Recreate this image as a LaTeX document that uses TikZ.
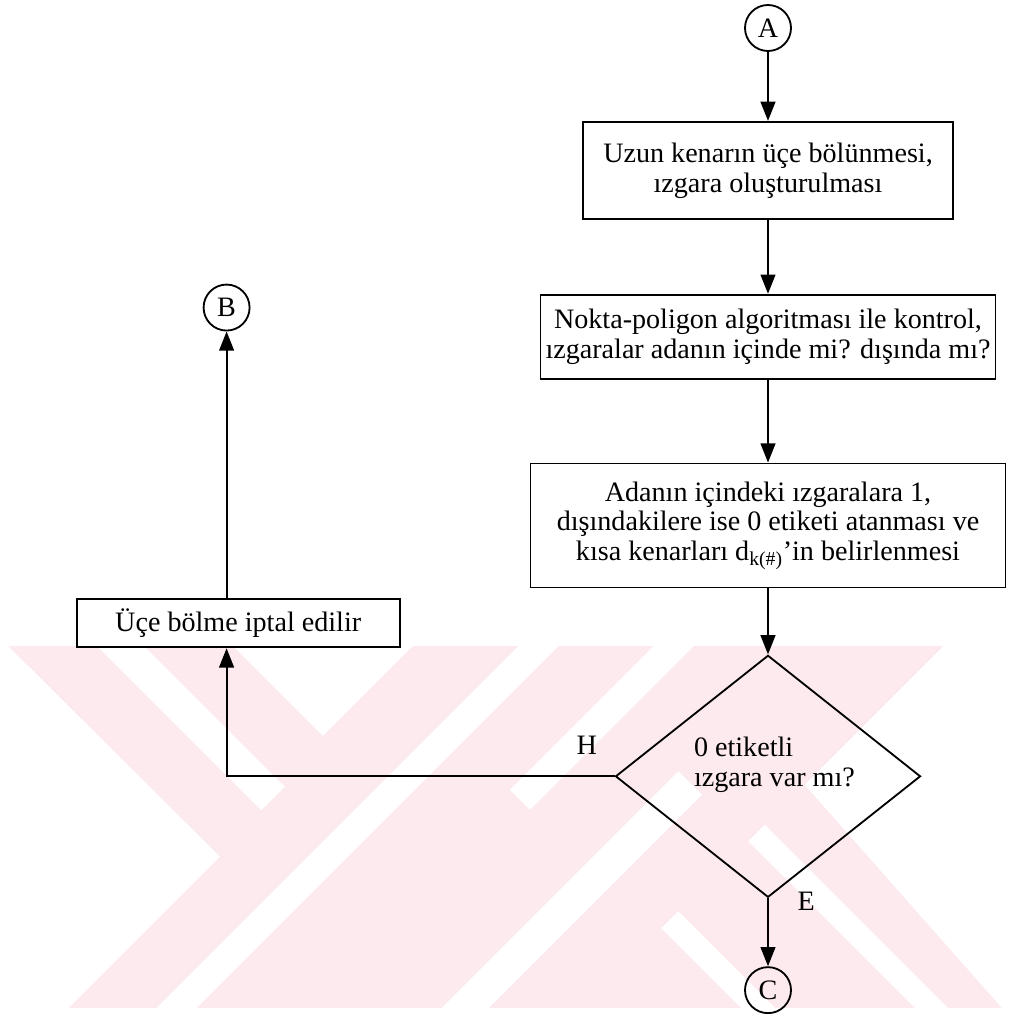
\documentclass[tikz,border=0pt]{standalone}
\usepackage{fontspec}
\setmainfont{Liberation Serif}
\usepackage{tikz}
\usetikzlibrary{positioning,shapes.geometric,arrows.meta}
\definecolor{stripe}{RGB}{252,234,238}

\begin{document}
\begin{tikzpicture}[
        connector/.style={circle, draw, line width=1.3pt, minimum size=1.15cm, inner sep=0pt},
        process/.style={rectangle, draw, line width=1.3pt, align=center},
        decision/.style={diamond, draw, line width=1.3pt, minimum width=7.625cm, minimum height=6.05cm, inner sep=0pt},
        arrow/.style={draw, line width=1.3pt, -{Triangle[length=0.48cm, width=0.37cm]}},
        every node/.style={font=\fontsize{20}{21.3}\selectfont}
    ]
        \useasboundingbox (0,0) rectangle (25.25,-25.35);

        % Pale stripes behind the lower part
        \begin{scope}[x=0.025cm, y=-0.025cm]
            \fill[stripe] (8,646) rectangle (1005,1008);
            \fill[white] (0,646) -- (8,646) -- (220,857) -- (69,1008) -- (0,1008) -- cycle;
            \fill[white] (97,646) -- (144,646) -- (285,787) -- (261.5,810.5) -- cycle;
            \fill[white] (233,646) -- (413,646) -- (323,736) -- cycle;
            \fill[white] (519,646) -- (559,646) -- (197,1008) -- (157,1008) -- cycle;
            \fill[white] (654,646) -- (694,646) -- (530,810) -- (510,790) -- cycle;
            \fill[white] (442,1008) -- (489,1008) -- (702,795) -- (678.5,771.5) -- cycle;
            \fill[white] (661.5,928.5) -- (678.5,911.5) -- (775,1008) -- (741,1008) -- cycle;
            \fill[white] (748.5,841.5) -- (765,825) -- (948,1008) -- (915,1008) -- cycle;
            \fill[white] (944,646) -- (1010,646) -- (1010,1008) -- (1002,1008) -- (805,785) -- cycle;
        \end{scope}

        % Main column
        \node[connector] (A) at (19.2,-0.7) {A};
        \node[process, minimum width=9.25cm, minimum height=2.425cm, below=1.725cm of A] (split)
            {Uzun kenarın üçe bölünmesi,\\ ızgara oluşturulması};
        \node[process, minimum width=11.375cm, minimum height=2.1cm, below=1.85cm of split] (check)
            {Nokta-poligon algoritması ile kontrol,\\ ızgaralar adanın içinde mi? dışında mı?};
        \node[process, minimum width=11.875cm, minimum height=3.1cm, below=2.075cm of check] (label)
            {Adanın içindeki ızgaralara 1,\\ dışındakilere ise 0 etiketi atanması ve\\ kısa kenarları d\textsubscript{k(\#)}’in belirlenmesi};
        \node[decision, below=1.65cm of label] (dia) {};
        \node[align=left] (ask) at ([xshift=0.16cm, yshift=0.3cm]dia.center) {0 etiketli\\ ızgara var mı?};
        \node[connector, below=1.7cm of dia] (C) {C};

        % Side branch
        \coordinate[left=9.7cm of dia.west] (turn);
        \node[process, minimum width=8.075cm, minimum height=1.2cm, above=3.2cm of turn, xshift=0.29cm] (cancel)
            {Üçe bölme iptal edilir};
        \node[connector, above=6.675cm of cancel.north, xshift=-0.29cm] (B) {B};

        % Arrows
        \draw[arrow] (A) -- (split);
        \draw[arrow] (split) -- (check);
        \draw[arrow] (check) -- (label);
        \draw[arrow] (label) -- (dia);
        \draw[arrow] (dia.south) -- node[pos=0.05, right, xshift=0.6cm] (yes) {E} (C);
        \draw[arrow] (dia.west) -- node[pos=0.072, above, yshift=0.4cm] (no) {H} (turn) -- (turn |- cancel.south);
        \draw[arrow] (B |- cancel.north) -- (B);
    \end{tikzpicture}
\end{document}
